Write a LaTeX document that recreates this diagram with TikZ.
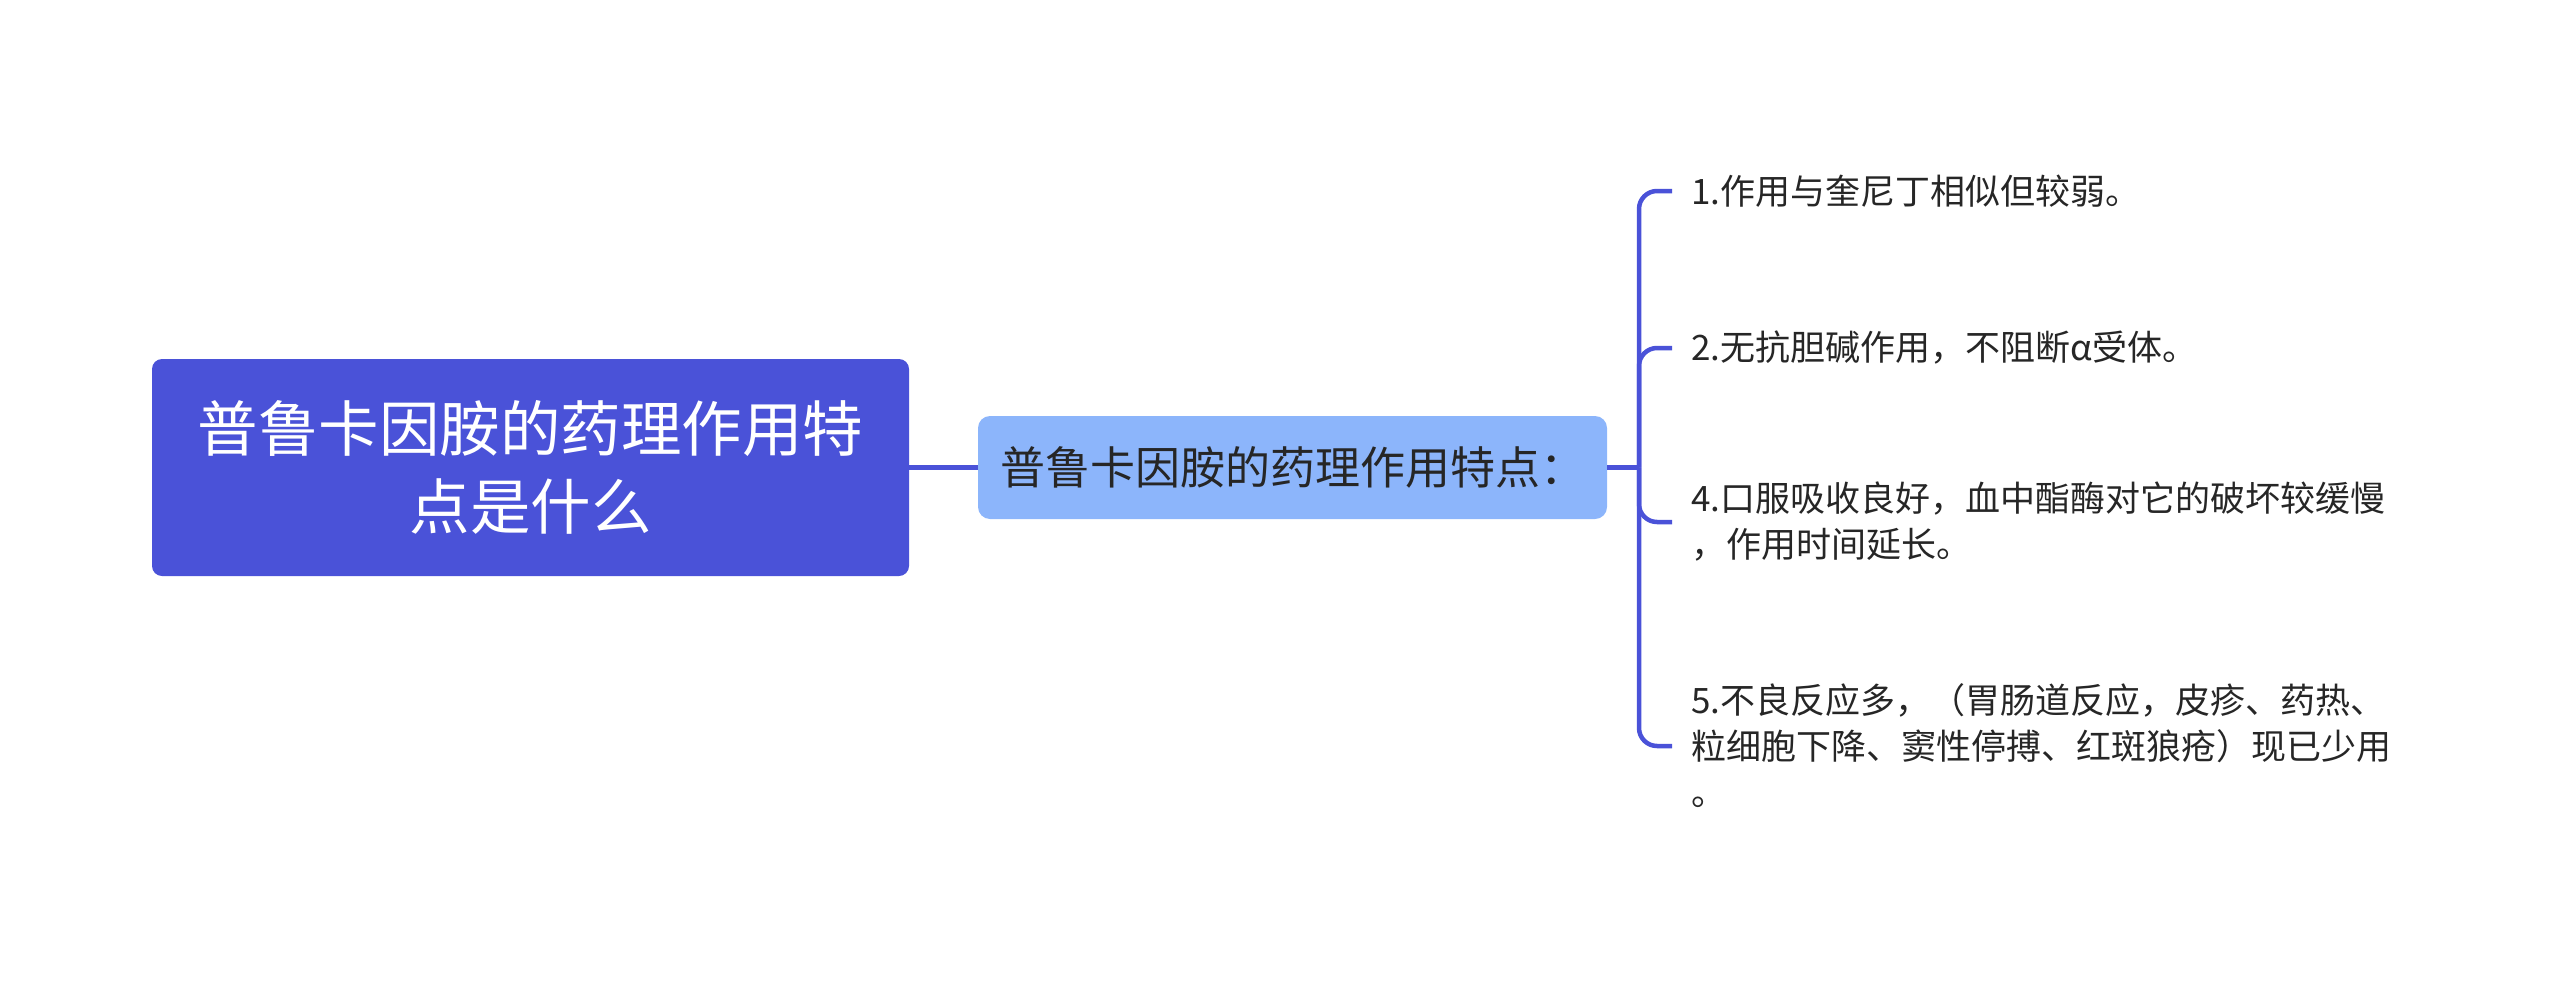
\documentclass[tikz,border=0pt]{standalone}
\usepackage{fontspec}
\setmainfont{Noto Sans CJK SC}
\definecolor{rootc}{HTML}{4A52D8}
\definecolor{midc}{HTML}{8CB5FB}
\definecolor{linec}{HTML}{4A52D8}
\definecolor{txt}{HTML}{262626}
\begin{document}
\begin{tikzpicture}[x=1pt,y=-1pt,
  rootbox/.style={fill=rootc, rounded corners=10pt, minimum width=757pt, minimum height=217pt,
    text=white, font=\fontsize{60.5}{78}\selectfont, align=center, inner sep=0pt},
  midbox/.style={fill=midc, rounded corners=12pt, minimum width=629pt, minimum height=103pt,
    text=txt, font=\fontsize{45}{54}\selectfont, inner sep=0pt},
  leaf/.style={anchor=west, text=txt, font=\fontsize{35}{46}\selectfont, align=left,
    inner xsep=19pt, inner ysep=0pt},
  conn/.style={draw=linec, line width=4.5pt},
  branch/.style={conn, rounded corners=18pt}
]
\useasboundingbox (0,0) rectangle (2560,982);
\node[rootbox] (root) at (530.5,467.5) {普鲁卡因胺的药理作用特\\点是什么};
\node[midbox] (mid) at (1292.5,467.5) {普鲁卡因胺的药理作用特点：};
\coordinate (J) at (1639,467.5);
\node[leaf] (l1) at (1672,191) {1.作用与奎尼丁相似但较弱。};
\node[leaf] (l2) at (1672,348) {2.无抗胆碱作用，不阻断α受体。};
\node[leaf] (l4) at (1672,522) {4.口服吸收良好，血中酯酶对它的破坏较缓慢\\，作用时间延长。};
\node[leaf] (l5) at (1672,746) {5.不良反应多，（胃肠道反应，皮疹、药热、\\粒细胞下降、窦性停搏、红斑狼疮）现已少用\\。};
\draw[conn] (root.east) -- (mid.west);
\draw[conn] (mid.east) -- (J);
\foreach \n in {l1,l2,l4,l5}{
  \draw[branch] (J) |- (\n.west);
}
\end{tikzpicture}
\end{document}
